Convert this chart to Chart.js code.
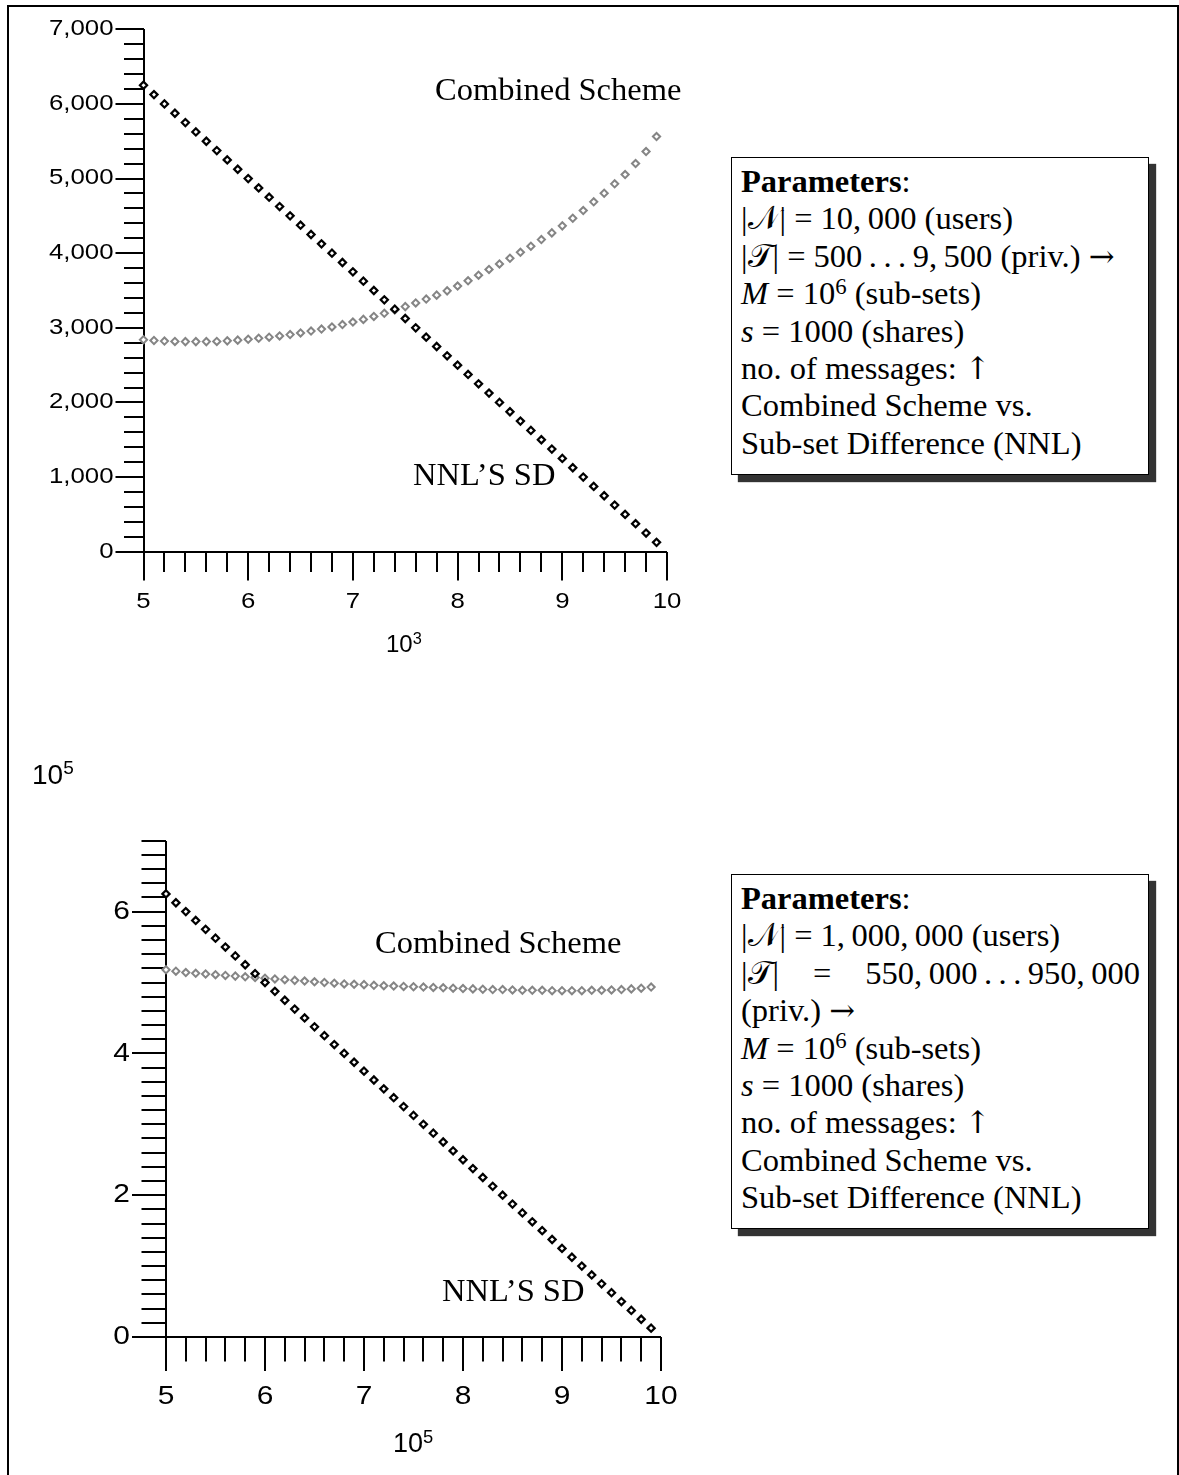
<!DOCTYPE html>
<html>
<head>
<meta charset="utf-8">
<title>Combined Scheme vs. NNL's SD</title>
<script src="https://cdn.jsdelivr.net/npm/chart.js@4.4.1/dist/chart.umd.min.js"></script>
<style>
  html, body { margin: 0; padding: 0; background: #fff; }
  body { position: relative; width: 1179px; height: 1475px; overflow: hidden; }
  #frame { position: absolute; left: 7px; top: 5px; width: 1168px; height: 1500px; border: 2px solid #000; border-bottom: none; }
  canvas { position: absolute; left: 0; }
  #topChart { top: 0; }
  #bottomChart { top: 700px; }
  .note { position: absolute; font-family: "Liberation Serif", serif; font-size: 32.5px; line-height: 1; white-space: nowrap; }
  .unit { position: absolute; font-family: "Liberation Sans", Arial, sans-serif; line-height: 1; white-space: nowrap; }
  .unit sup { font-size: 0.68em; position: relative; top: -0.5em; vertical-align: baseline; }
  .params { position: absolute; left: 731px; width: 418px; box-sizing: border-box; border: 1.5px solid #000; background: #fff;
            box-shadow: 7px 7px 1px #333; padding: 5px 8px 0 9px; font-family: "Liberation Serif", "DejaVu Serif", "DejaVu Sans", serif;
            font-size: 32.5px; line-height: 37.4px; white-space: nowrap; }
  .params sup { font-size: 0.7em; position: relative; top: -0.45em; vertical-align: baseline; line-height: 0; }
  .params .arr { font-family: "DejaVu Serif", serif; font-size: 0.95em; }
  .just { display: flex; justify-content: space-between; }
</style>
</head>
<body>
<div id="frame"></div>
<canvas id="topChart" width="720" height="700"></canvas>
<canvas id="bottomChart" width="720" height="775"></canvas>

<div class="note" style="left:435px; top:73px;">Combined Scheme</div>
<div class="note" style="left:413px; top:458px;">NNL’S SD</div>
<div class="note" style="left:375px; top:926px;">Combined Scheme</div>
<div class="note" style="left:442px; top:1274px;">NNL’S SD</div>

<div class="unit" style="left:386px; top:632px; font-size:24px;">10<sup>3</sup></div>
<div class="unit" style="left:32px; top:761px; font-size:28px;">10<sup>5</sup></div>
<div class="unit" style="left:393px; top:1430px; font-size:27px;">10<sup>5</sup></div>

<div class="params" style="top:157px; height:318px;">
  <div><b>Parameters</b>:</div>
  <div>|𝒩| = 10,&#8201;000 (users)</div>
  <div>|𝒯| = 500&#8201;.&#8201;.&#8201;.&#8201;9,&#8201;500 (priv.) <span class="arr">→</span></div>
  <div><i>M</i> = 10<sup>6</sup> (sub-sets)</div>
  <div><i>s</i> = 1000 (shares)</div>
  <div>no. of messages: <span class="arr">↑</span></div>
  <div>Combined Scheme vs.</div>
  <div>Sub-set Difference (NNL)</div>
</div>

<div class="params" style="top:874px; height:355px;">
  <div><b>Parameters</b>:</div>
  <div>|𝒩| = 1,&#8201;000,&#8201;000 (users)</div>
  <div class="just"><span>|𝒯|</span><span>=</span><span>550,&#8201;000&#8201;.&#8201;.&#8201;.&#8201;950,&#8201;000</span></div>
  <div>(priv.) <span class="arr">→</span></div>
  <div><i>M</i> = 10<sup>6</sup> (sub-sets)</div>
  <div><i>s</i> = 1000 (shares)</div>
  <div>no. of messages: <span class="arr">↑</span></div>
  <div>Combined Scheme vs.</div>
  <div>Sub-set Difference (NNL)</div>
</div>

<script>
// privileged users, x 10^3 (top) and x 10^5 (bottom)
const xValues = [5.0, 5.1, 5.2, 5.3, 5.4, 5.5, 5.6, 5.7, 5.8, 5.9,
                 6.0, 6.1, 6.2, 6.3, 6.4, 6.5, 6.6, 6.7, 6.8, 6.9,
                 7.0, 7.1, 7.2, 7.3, 7.4, 7.5, 7.6, 7.7, 7.8, 7.9,
                 8.0, 8.1, 8.2, 8.3, 8.4, 8.5, 8.6, 8.7, 8.8, 8.9,
                 9.0, 9.1, 9.2, 9.3, 9.4, 9.5, 9.6, 9.7, 9.8, 9.9];

// top chart: |N| = 10,000
const nnlTop = [6250, 6125, 6000, 5875, 5750, 5625, 5500, 5375, 5250, 5125,
                5000, 4875, 4750, 4625, 4500, 4375, 4250, 4125, 4000, 3875,
                3750, 3625, 3500, 3375, 3250, 3125, 3000, 2875, 2750, 2625,
                2500, 2375, 2250, 2125, 2000, 1875, 1750, 1625, 1500, 1375,
                1250, 1125, 1000, 875, 750, 625, 500, 375, 250, 125];
const combinedTop = [2840, 2830, 2822, 2818, 2815, 2815, 2815, 2818, 2825, 2835,
                     2847, 2860, 2875, 2891, 2909, 2931, 2956, 2983, 3012, 3043,
                     3077, 3113, 3152, 3194, 3238, 3284, 3333, 3385, 3438, 3495,
                     3560, 3630, 3705, 3782, 3856, 3932, 4012, 4093, 4182, 4272,
                     4366, 4468, 4571, 4688, 4803, 4929, 5054, 5201, 5362, 5563];

// bottom chart: |N| = 1,000,000 (values in 10^5)
const nnlBottom = [6.25, 6.125, 6.0, 5.875, 5.75, 5.625, 5.5, 5.375, 5.25, 5.125,
                   5.0, 4.875, 4.75, 4.625, 4.5, 4.375, 4.25, 4.125, 4.0, 3.875,
                   3.75, 3.625, 3.5, 3.375, 3.25, 3.125, 3.0, 2.875, 2.75, 2.625,
                   2.5, 2.375, 2.25, 2.125, 2.0, 1.875, 1.75, 1.625, 1.5, 1.375,
                   1.25, 1.125, 1.0, 0.875, 0.75, 0.625, 0.5, 0.375, 0.25, 0.125];
const combinedBottom = [5.18, 5.16, 5.14, 5.13, 5.12, 5.11, 5.10, 5.09, 5.08, 5.07,
                        5.06, 5.05, 5.04, 5.03, 5.02, 5.01, 5.00, 4.99, 4.98, 4.975,
                        4.97, 4.96, 4.955, 4.95, 4.945, 4.94, 4.935, 4.93, 4.925, 4.92,
                        4.915, 4.91, 4.905, 4.90, 4.90, 4.895, 4.89, 4.89, 4.89, 4.885,
                        4.885, 4.885, 4.885, 4.89, 4.89, 4.895, 4.90, 4.91, 4.92, 4.935];

const xTickLabels = [5, 6, 7, 8, 9, 10];
const yTickLabelsTop = [0, 1000, 2000, 3000, 4000, 5000, 6000, 7000];
const yTickLabelsBottom = [0, 2, 4, 6];

// Maple-style axes: crossing lines with long/short tick marks, labels stretched a bit
const mapleAxes = {
    id: 'mapleAxes',
    beforeDatasetsDraw(chart, args, o) {
        const ctx = chart.ctx;
        const xs = chart.scales.x, ys = chart.scales.y;
        const ax = Math.round(xs.getPixelForValue(xs.min));
        const ay = Math.round(ys.getPixelForValue(ys.min));
        const isIn = (list, v) => list.some(m => Math.abs(m - v) < 1e-6);

        ctx.save();
        ctx.strokeStyle = '#000';
        ctx.lineWidth = 2;
        ctx.beginPath();
        ctx.moveTo(ax, Math.round(ys.getPixelForValue(ys.max)));
        ctx.lineTo(ax, ay);
        ctx.lineTo(Math.round(xs.getPixelForValue(xs.max)), ay);

        const nY = Math.round((ys.max - ys.min) / o.yMinor);
        for (let i = 0; i <= nY; i++) {
            const v = ys.min + i * o.yMinor;
            const len = isIn(o.yMajor, v) ? o.majorLen : o.minorLen;
            const py = Math.round(ys.getPixelForValue(v));
            ctx.moveTo(ax - len, py);
            ctx.lineTo(ax, py);
        }
        const nX = Math.round((xs.max - xs.min) / o.xMinor);
        for (let i = 0; i <= nX; i++) {
            const v = xs.min + i * o.xMinor;
            const len = isIn(o.xMajor, v) ? o.majorLen : o.minorLen;
            const px = Math.round(xs.getPixelForValue(v));
            ctx.moveTo(px, ay);
            ctx.lineTo(px, ay + len);
        }
        ctx.stroke();

        ctx.fillStyle = '#000';
        ctx.font = o.fontSize + 'px "Liberation Sans", Arial, sans-serif';
        ctx.textBaseline = 'middle';
        ctx.textAlign = 'right';
        o.yMajor.forEach(v => {
            ctx.save();
            ctx.translate(ax - o.majorLen - 2, ys.getPixelForValue(v));
            ctx.scale(o.stretch, 1);
            ctx.fillText(o.yFormat(v), 0, 0);
            ctx.restore();
        });
        ctx.textAlign = 'center';
        o.xMajor.forEach(v => {
            ctx.save();
            ctx.translate(xs.getPixelForValue(v), ay + o.xLabelOffset);
            ctx.scale(o.stretch, 1);
            ctx.fillText(String(v), 0, 0);
            ctx.restore();
        });
        ctx.restore();
    }
};

function toPoints(ys) {
    return xValues.map((x, i) => ({ x: x, y: ys[i] }));
}

function makeChart(id, nnl, combined, yMax, pad, axisOpts) {
    return new Chart(document.getElementById(id), {
        type: 'scatter',
        data: {
            datasets: [{
                label: "NNL'S SD",
                data: toPoints(nnl),
                pointStyle: 'rectRot',
                pointRadius: 3.6,
                borderWidth: 2.2,
                borderColor: '#000',
                backgroundColor: '#fff',
                clip: false
            }, {
                label: 'Combined Scheme',
                data: toPoints(combined),
                pointStyle: 'rectRot',
                pointRadius: 3.6,
                borderWidth: 2,
                borderColor: '#858585',
                backgroundColor: '#fff',
                clip: false
            }]
        },
        options: {
            responsive: false,
            animation: false,
            layout: { padding: pad },
            plugins: {
                legend: { display: false },
                tooltip: { enabled: false },
                mapleAxes: axisOpts
            },
            scales: {
                x: { type: 'linear', display: false, min: 5, max: 10 },
                y: { type: 'linear', display: false, min: 0, max: yMax }
            }
        },
        plugins: [mapleAxes]
    });
}

makeChart('topChart', nnlTop, combinedTop, 7000,
    { left: 143.5, right: 53, top: 29.3, bottom: 148.3 },
    { yMinor: 200, xMinor: 0.2, yMajor: yTickLabelsTop, xMajor: xTickLabels,
      majorLen: 28.5, minorLen: 20, fontSize: 21.5, stretch: 1.2, xLabelOffset: 50,
      yFormat: v => v.toLocaleString('en-US') });

makeChart('bottomChart', nnlBottom, combinedBottom, 7,
    { left: 166, right: 59, top: 140.7, bottom: 138 },
    { yMinor: 0.2, xMinor: 0.2, yMajor: yTickLabelsBottom, xMajor: xTickLabels,
      majorLen: 34, minorLen: 24.5, fontSize: 26, stretch: 1.15, xLabelOffset: 60,
      yFormat: v => String(v) });
</script>
</body>
</html>
